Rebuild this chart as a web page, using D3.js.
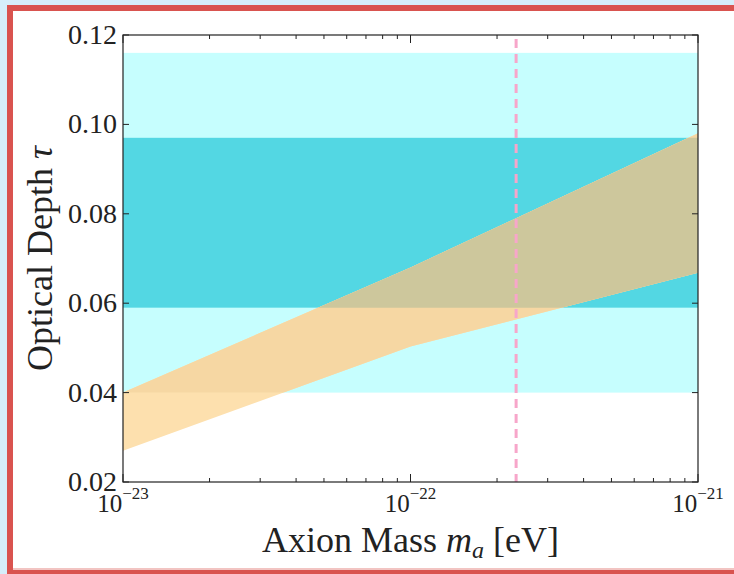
<!DOCTYPE html>
<html><head><meta charset="utf-8">
<script src="https://cdn.jsdelivr.net/npm/d3@7"></script>
<style>body{margin:0;background:#fff} svg{display:block}</style>
</head><body>
<svg id="c" width="734" height="574"></svg>
<script>
// ---- data ----
const massTicks = [1e-23, 1e-22, 1e-21];
const massTickExp = ["\u221223", "\u221222", "\u221221"];
const tauTicks = [0.02, 0.04, 0.06, 0.08, 0.10, 0.12];
const tauTickLabels = ["0.02", "0.04", "0.06", "0.08", "0.10", "0.12"];
const bandMass = [1e-23, 1e-22, 1e-21];
const bandUpper = [0.040, 0.068, 0.098];
const bandLower = [0.027, 0.0503, 0.0668];
const tau1sigma = [0.059, 0.097];
const tau2sigma = [0.040, 0.116];
const markerMass = 2.33e-22;

// ---- layout ----
const W = 734, H = 574;
const L = 123, R = 698, T = 35, B = 482;
const svg = d3.select("#c");

// slide background + frame
svg.append("rect").attr("x",0).attr("y",0).attr("width",W).attr("height",H).attr("fill","#d6eefa");
svg.append("rect").attr("x",7).attr("y",5).attr("width",W).attr("height",569).attr("fill","#d9534f");
svg.append("rect").attr("x",13).attr("y",11).attr("width",W).attr("height",559).attr("fill","#ffffff");
svg.append("rect").attr("x",13).attr("y",568).attr("width",W).attr("height",2).attr("fill","#f2c4c2");

const x = d3.scaleLog().domain([1e-23, 1e-21]).range([L, R]);
const y = d3.scaleLinear().domain([0.02, 0.12]).range([B, T]);

const defs = svg.append("defs");
defs.append("clipPath").attr("id","plot").append("rect")
  .attr("x",L).attr("y",T).attr("width",R-L).attr("height",B-T);
defs.append("clipPath").attr("id","c2").append("rect")
  .attr("x",L).attr("y",y(tau2sigma[1])).attr("width",R-L).attr("height",y(tau2sigma[0])-y(tau2sigma[1]));
defs.append("clipPath").attr("id","c1").append("rect")
  .attr("x",L).attr("y",y(tau1sigma[1])).attr("width",R-L).attr("height",y(tau1sigma[0])-y(tau1sigma[1]));

const g = svg.append("g").attr("clip-path","url(#plot)");
// bands
g.append("rect").attr("x",L).attr("width",R-L)
  .attr("y",y(tau2sigma[1])).attr("height",y(tau2sigma[0])-y(tau2sigma[1])).attr("fill","#c6fefe");
g.append("rect").attr("x",L).attr("width",R-L)
  .attr("y",y(tau1sigma[1])).attr("height",y(tau1sigma[0])-y(tau1sigma[1])).attr("fill","#53d7e3");

// orange region
const bandData = bandMass.map((m,i)=>({m, lo:bandLower[i], hi:bandUpper[i]}));
const area = d3.area().x(d=>x(d.m)).y0(d=>y(d.lo)).y1(d=>y(d.hi));
g.append("path").attr("d",area(bandData)).attr("fill","#fde0ae");
g.append("path").attr("d",area(bandData)).attr("fill","#f6d7a3").attr("clip-path","url(#c2)");
g.append("path").attr("d",area(bandData)).attr("fill","#cdc79c").attr("clip-path","url(#c1)");

// dashed marker
g.append("line").attr("x1",x(markerMass)).attr("x2",x(markerMass)).attr("y1",T+4).attr("y2",B)
  .attr("stroke","#f7a6ca").attr("stroke-width",3).attr("stroke-dasharray","9,6");

// axes frame
const ax = svg.append("g");
ax.append("rect").attr("x",L).attr("y",T).attr("width",R-L).attr("height",B-T)
  .attr("fill","none").attr("stroke","#222").attr("stroke-width",1.2);

// x ticks (major + minor), inward top & bottom
const minor = [];
for (let e=-23; e<-21; e++) for (let k=2;k<=9;k++) minor.push(k*Math.pow(10,e));
const tk = ax.append("g").attr("stroke","#222").attr("stroke-width",1);
massTicks.forEach(m=>{
  tk.append("line").attr("x1",x(m)).attr("x2",x(m)).attr("y1",B).attr("y2",B-8);
  tk.append("line").attr("x1",x(m)).attr("x2",x(m)).attr("y1",T).attr("y2",T+8);
});
minor.forEach(m=>{
  tk.append("line").attr("x1",x(m)).attr("x2",x(m)).attr("y1",B).attr("y2",B-4);
  tk.append("line").attr("x1",x(m)).attr("x2",x(m)).attr("y1",T).attr("y2",T+4);
});
tauTicks.forEach(t=>{
  tk.append("line").attr("x1",L).attr("x2",L+6).attr("y1",y(t)).attr("y2",y(t));
  tk.append("line").attr("x1",R).attr("x2",R-6).attr("y1",y(t)).attr("y2",y(t));
});

const font = "'Liberation Serif', 'DejaVu Serif', serif";
// y tick labels
tauTicks.forEach((t,i)=>{
  ax.append("text").attr("x",L-6).attr("y",y(t)+9)
    .attr("text-anchor","end").attr("font-family",font).attr("font-size",28).attr("fill","#222")
    .text(tauTickLabels[i]);
});
// x tick labels
massTicks.forEach((m,i)=>{
  const t = ax.append("text").attr("x",x(m)).attr("y",512)
    .attr("text-anchor","middle").attr("font-family",font).attr("font-size",25).attr("fill","#222");
  t.append("tspan").text("10");
  t.append("tspan").attr("dy",-13).attr("font-size",17).text(massTickExp[i]);
});

// axis labels
const xl = ax.append("text").attr("x",(L+R)/2).attr("y",552).attr("text-anchor","middle")
  .attr("font-family",font).attr("font-size",36).attr("fill","#222");
xl.append("tspan").text("Axion Mass ");
xl.append("tspan").attr("font-style","italic").text("m");
xl.append("tspan").attr("font-style","italic").attr("font-size",24).attr("dy",6).text("a");
xl.append("tspan").attr("dy",-6).text(" [eV]");

const yl = ax.append("text").attr("transform",`translate(52,${(T+B)/2}) rotate(-90)`)
  .attr("text-anchor","middle").attr("font-family",font).attr("font-size",36).attr("fill","#222");
yl.append("tspan").text("Optical Depth ");
yl.append("tspan").attr("font-style","italic").text("\u03c4");
</script>
</body></html>
